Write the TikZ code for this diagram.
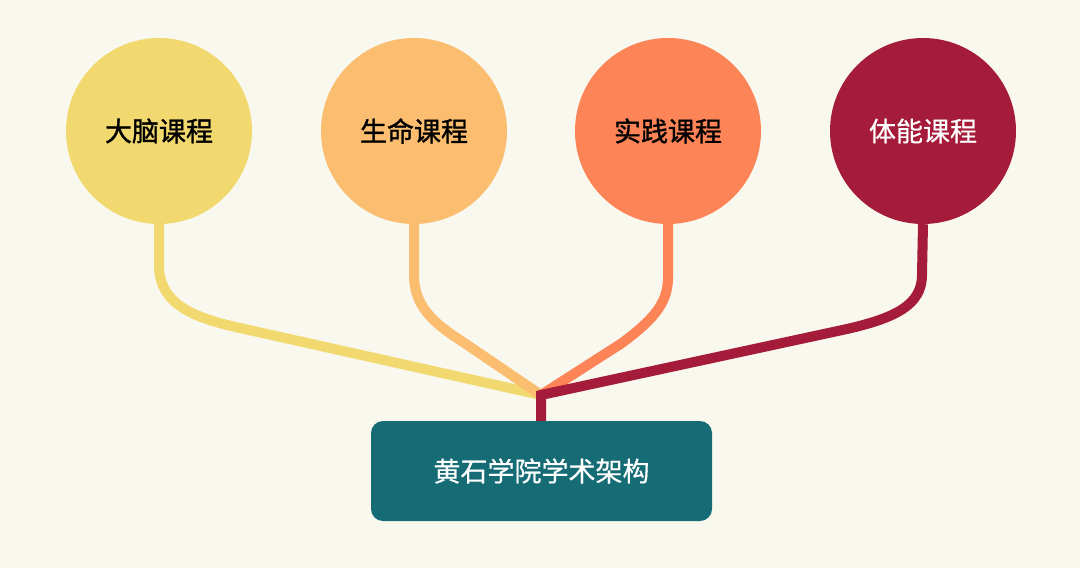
\documentclass[tikz,border=0pt]{standalone}
\usepackage{fontspec}
\newfontfamily\cjk[FakeBold=0.5]{Noto Sans CJK SC}
\newfontfamily\cjkb[FakeBold=1.2]{Noto Sans CJK SC}
\definecolor{bg}{HTML}{F8F8EE}
\definecolor{cyel}{HTML}{F2D96F}
\definecolor{clor}{HTML}{FBBD6F}
\definecolor{cora}{HTML}{FC8456}
\definecolor{cred}{HTML}{A51C3A}
\definecolor{cteal}{HTML}{166C75}
\begin{document}
\begin{tikzpicture}[x=1pt,y=-1pt,
  course/.style={circle,minimum size=186pt,inner sep=0pt,font=\fontsize{27}{30}\selectfont},
  link/.style={line width=10pt,line join=miter},
  rootbox/.style={rectangle,rounded corners=12pt,fill=cteal,minimum width=341pt,minimum height=100pt,text=white,font=\cjk\fontsize{27}{30}\selectfont}]
\fill[bg] (0,0) rectangle (1080,568);
\useasboundingbox (0,0) rectangle (1080,568);
\node[course,fill=cyel,font=\cjkb\fontsize{27}{30}\selectfont] (c1) at (159,131) {大脑课程};
\node[course,fill=clor,font=\cjkb\fontsize{27}{30}\selectfont] (c2) at (414,131) {生命课程};
\node[course,fill=cora,font=\cjkb\fontsize{27}{30}\selectfont] (c3) at (668,131) {实践课程};
\node[course,fill=cred,text=white,font=\cjk\fontsize{27}{30}\selectfont] (c4) at (923,131) {体能课程};
\node[rootbox] (root) at (541.5,471) {黄石学院学术架构};
\coordinate (j) at (541,395);
\draw[link,cyel] (c1.south) -- (159,265) .. controls (159,305) and (195,318) .. (240,328) -- (j);
\draw[link,clor] (c2.south) -- (414,275) .. controls (414,305) and (432,322) .. (460,340) -- (j);
\draw[link,cora] (c3.south) -- (668,278) .. controls (668,305) and (650,322) .. (622,343) -- (j);
\draw[link,cred] (c4.south) -- (922,275) .. controls (922,305) and (895,318) .. (847,329) -- (j) -- (root.north -| j);
\end{tikzpicture}
\end{document}
